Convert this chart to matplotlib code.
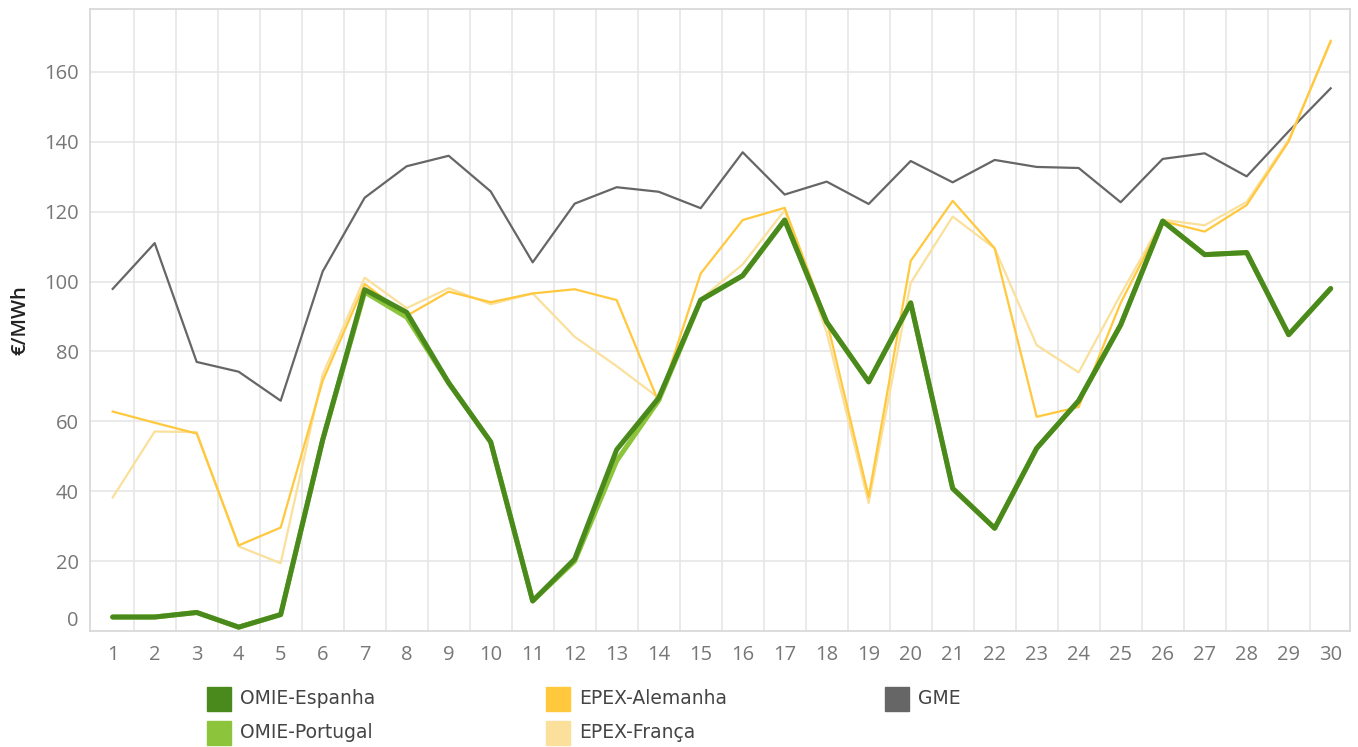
import matplotlib
matplotlib.use("Agg")
import matplotlib.pyplot as plt
from matplotlib.patches import Rectangle
import numpy as np

days = list(range(1, 31))

omie_es = [4.0, 4.0, 5.3, 1.1, 4.7, 54.7, 97.7, 91.2, 71.0, 54.1,
           8.6, 20.6, 51.9, 66.7, 94.7, 101.7, 117.6, 88.4, 71.3, 93.9,
           40.8, 29.4, 52.3, 65.9, 87.6, 117.3, 107.7, 108.3, 84.8, 98.0]
omie_pt = [4.0, 4.0, 5.3, 1.1, 4.7, 54.7, 97.0, 89.8, 71.0, 54.1,
           8.6, 20.0, 48.7, 66.0, 94.7, 101.7, 117.6, 88.4, 71.3, 93.9,
           40.8, 29.4, 52.3, 65.9, 87.6, 117.3, 107.7, 108.3, 84.8, 98.0]
epex_de = [62.8, 59.6, 56.5, 24.5, 29.6, 71.6, 99.3, 90.2, 97.1, 94.1,
           96.6, 97.8, 94.7, 65.5, 102.3, 117.6, 121.1, 89.0, 38.4, 105.9,
           123.1, 109.5, 61.3, 64.1, 93.9, 117.3, 114.3, 121.9, 140.1, 168.9]
epex_fr = [38.2, 57.1, 56.9, 24.2, 19.4, 73.4, 101.1, 92.4, 98.1, 93.5,
           96.6, 84.2, 75.8, 66.7, 95.0, 104.9, 120.4, 85.4, 36.6, 99.6,
           118.6, 109.5, 81.8, 74.0, 96.3, 117.7, 116.1, 122.8, 140.6, 168.5]
gme = [97.9, 111.0, 77.0, 74.2, 65.9, 102.9, 124.0, 133.0, 136.0, 125.8,
       105.5, 122.3, 127.0, 125.7, 121.0, 137.0, 124.9, 128.6, 122.2, 134.5,
       128.4, 134.8, 132.8, 132.5, 122.7, 135.1, 136.7, 130.1, 143.0, 155.3]

c_es = "#4a8a1c"
c_pt = "#8cc43c"
c_de = "#ffc83d"
c_fr = "#fae09a"
c_gme = "#666666"

fig = plt.figure(figsize=(13.58, 7.47), dpi=100)
ax = fig.add_axes([90 / 1358, 1 - 631 / 747, 1260 / 1358, 622 / 747])

ax.plot(days, gme, color=c_gme, lw=1.6, zorder=3)
ax.plot(days, epex_fr, color=c_fr, lw=1.6, zorder=3)
ax.plot(days, epex_de, color=c_de, lw=1.6, zorder=4)
ax.plot(days, omie_pt, color=c_pt, lw=3.6, zorder=5, solid_capstyle="round")
ax.plot(days, omie_es, color=c_es, lw=3.6, zorder=6, solid_capstyle="round")

ax.set_xlim(0.46, 30.46)
ax.set_ylim(0, 178)
ax.set_xticks(days)
ax.set_xticklabels([str(d) for d in days])
ax.set_yticks(range(0, 161, 20))

ax.grid(False)
for x in np.arange(1.5, 30.5, 1):
    ax.axvline(x, color="#e6e6e6", lw=1.2, zorder=1)
for y in range(20, 161, 20):
    ax.axhline(y, color="#e6e6e6", lw=1.2, zorder=1)

for s in ["left", "top", "right", "bottom"]:
    ax.spines[s].set_color("#d6d6d6")
    ax.spines[s].set_linewidth(1.2)

ax.tick_params(axis="both", which="both", length=0, labelsize=14.5,
               labelcolor="#777777")
ax.tick_params(axis="y", pad=8)
ax.tick_params(axis="x", pad=10)
for lab in ax.get_xticklabels() + ax.get_yticklabels():
    lab.set_family("Open Sans")
ax.get_yticklabels()[0].set_va("bottom")

ax.set_ylabel("€/MWh", fontsize=14.5, color="#222222", family="Open Sans",
              fontweight="semibold")
ax.yaxis.set_label_coords((30 - 90) / 1260, 0.5)

legend_items = [("OMIE-Espanha", c_es, 207, 699),
                ("OMIE-Portugal", c_pt, 207, 733),
                ("EPEX-Alemanha", c_de, 546, 699),
                ("EPEX-França", c_fr, 546, 733),
                ("GME", c_gme, 885, 699)]
for name, col, px, py in legend_items:
    fig.add_artist(Rectangle((px / 1358, 1 - (py + 12) / 747), 24 / 1358, 24 / 747,
                             transform=fig.transFigure, color=col))
    fig.text((px + 33) / 1358, 1 - py / 747, name, fontsize=13.5,
             color="#444444", va="center", ha="left", family="DejaVu Sans")

fig.savefig("out.png", dpi=100)
